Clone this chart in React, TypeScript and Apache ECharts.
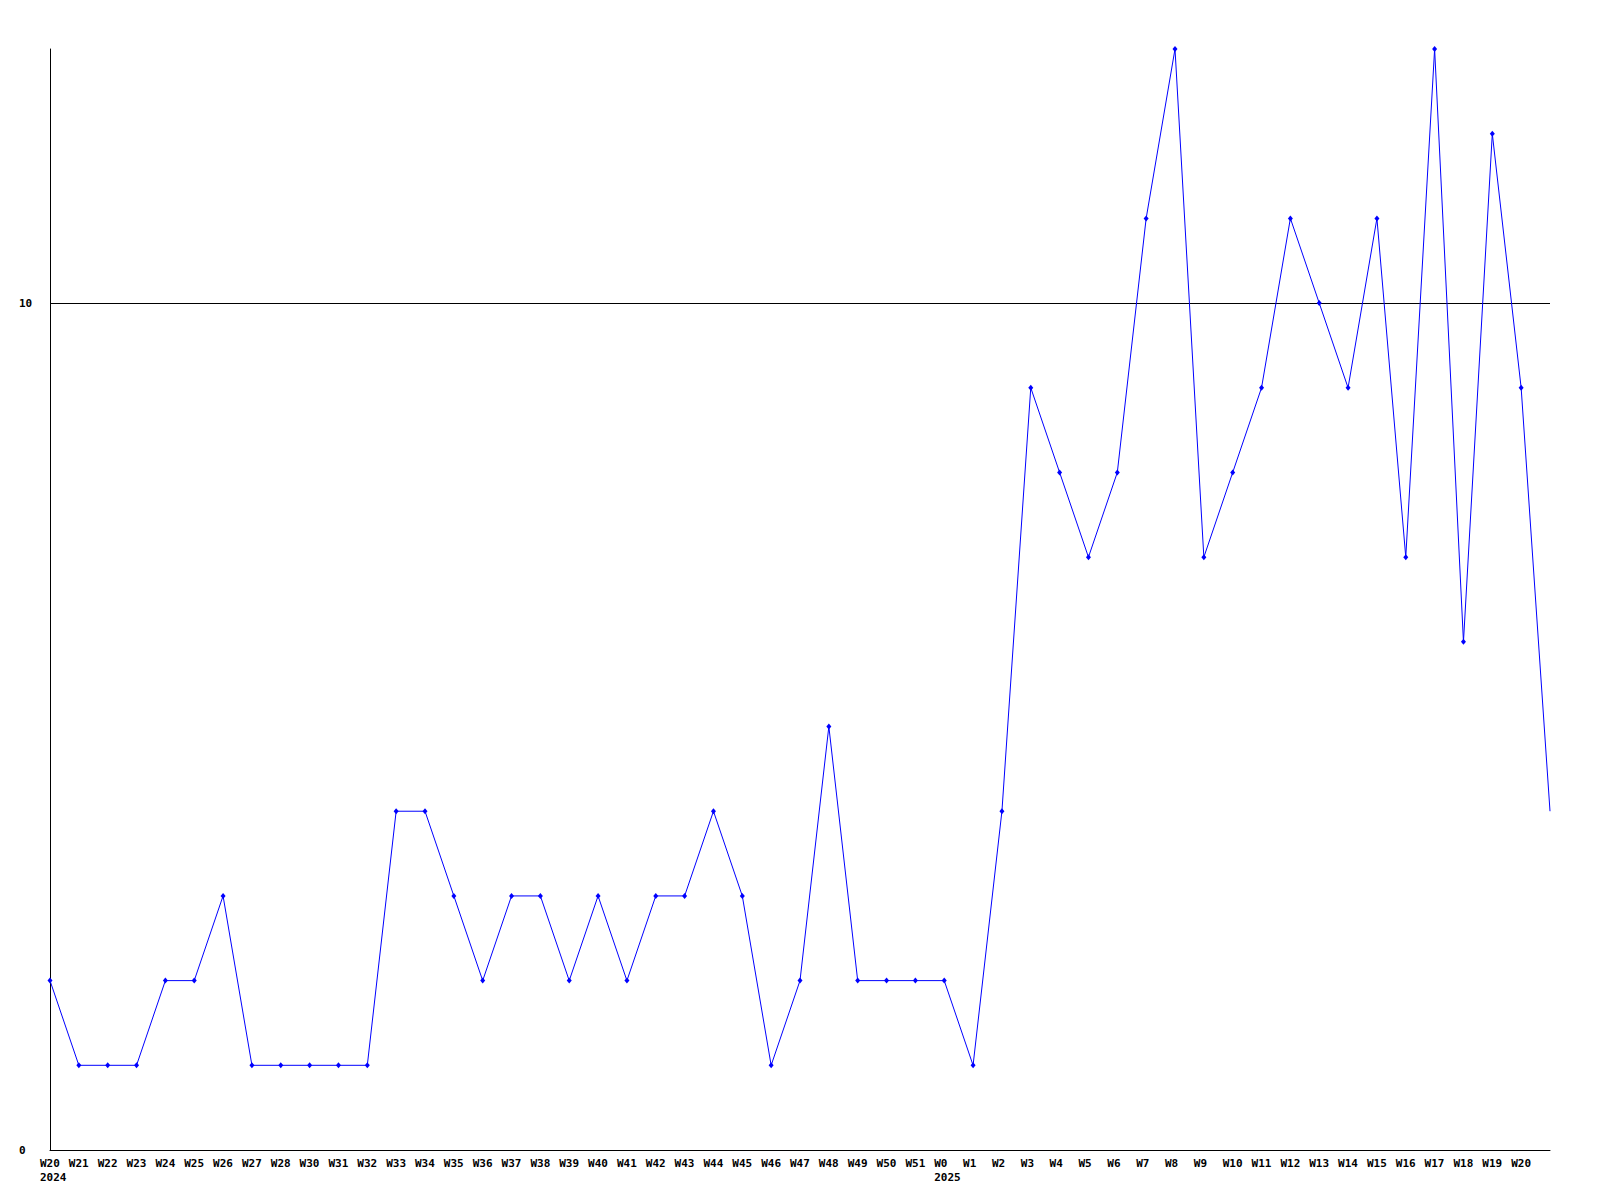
import React, { useEffect, useRef } from "react";
import * as echarts from "echarts";

const weekLabels: string[] = [
  "W20", "W21", "W22", "W23", "W24", "W25", "W26", "W27", "W28", "W30",
  "W31", "W32", "W33", "W34", "W35", "W36", "W37", "W38", "W39", "W40",
  "W41", "W42", "W43", "W44", "W45", "W46", "W47", "W48", "W49", "W50",
  "W51", "W0", "W1", "W2", "W3", "W4", "W5", "W6", "W7", "W8",
  "W9", "W10", "W11", "W12", "W13", "W14", "W15", "W16", "W17", "W18",
  "W19", "W20", "",
];

const values: number[] = [
  2, 1, 1, 1, 2, 2, 3, 1, 1, 1,
  1, 1, 4, 4, 3, 2, 3, 3, 2, 3,
  2, 3, 3, 4, 3, 1, 2, 5, 2, 2,
  2, 2, 1, 4, 9, 8, 7, 8, 11, 13,
  7, 8, 9, 11, 10, 9, 11, 7, 13, 6,
  12, 9, 4,
];

const yearIndex: number[] = [0, 31];
const yearText: string[] = ["2024", "2025"];

const yMin = 0;
const yMax = 13;
const yInterval = 10;

export default function App() {
  const ref = useRef<HTMLDivElement>(null);

  useEffect(() => {
    if (!ref.current) return;
    const chart = echarts.init(ref.current, undefined, { renderer: "svg" });
    const font = "DejaVu Sans Mono";
    const seriesData = values.map((v, i) =>
      i === values.length - 1 ? { value: v, symbol: "none" } : v
    );
    chart.setOption({
      animation: false,
      backgroundColor: "#ffffff",
      grid: { left: 50, right: 50, top: 49, bottom: 50, containLabel: false },
      xAxis: {
        type: "category",
        data: weekLabels,
        boundaryGap: false,
        axisLine: { show: true, lineStyle: { color: "#000000", width: 1 } },
        axisTick: { show: false },
        splitLine: { show: false },
        axisLabel: {
          interval: 0,
          hideOverlap: false,
          color: "#000000",
          fontFamily: font,
          fontWeight: "bold",
          fontSize: 11,
          lineHeight: 14,
          margin: 6,
          align: "left",
          padding: [0, 0, 0, -10],
          formatter: (value: string, index: number) => {
            const k = yearIndex.indexOf(index);
            return k >= 0 ? `${value}\n${yearText[k]}` : value;
          },
        },
      },
      yAxis: {
        type: "value",
        min: yMin,
        max: yMax,
        interval: yInterval,
        axisLine: { show: true, lineStyle: { color: "#000000", width: 1 } },
        axisTick: { show: false },
        splitLine: {
          show: true,
          showMinLine: false,
          showMaxLine: false,
          lineStyle: { color: "#000000", width: 1, type: "solid" },
        },
        axisLabel: {
          showMaxLabel: false,
          color: "#000000",
          fontFamily: font,
          fontWeight: "bold",
          fontSize: 11,
          align: "left",
          margin: 31,
        },
      },
      series: [
        {
          type: "line",
          data: seriesData,
          showAllSymbol: true,
          symbol: "diamond",
          symbolSize: [5, 6],
          lineStyle: { color: "#0000ff", width: 1 },
          itemStyle: { color: "#0000ff" },
          z: 5,
        },
      ],
    });
    return () => chart.dispose();
  }, []);

  return (
    <div
      ref={ref}
      style={{ position: "fixed", left: 0, top: 0, width: 1600, height: 1200, background: "#fff" }}
    />
  );
}
